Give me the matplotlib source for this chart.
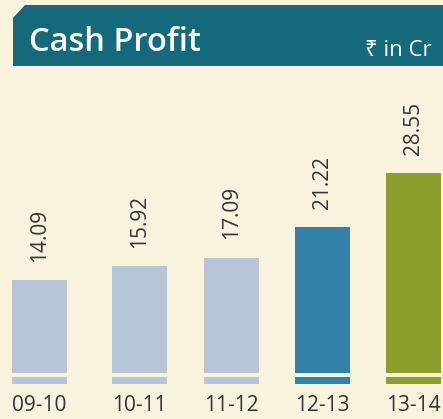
import numpy as np
import matplotlib.pyplot as plt
from matplotlib.patches import Polygon

# data
years = ['09-10', '10-11', '11-12', '12-13', '13-14']
cash_profit = [14.09, 15.92, 17.09, 21.22, 28.55]
bar_colors = ['#B5C6D8', '#B5C6D8', '#B5C6D8', '#3181A9', '#8B9F2A']

# layout
W, H = 443, 419
bg = '#F8F3DC'
txt = '#333333'
xpos = np.array([0, 1.09, 2.094, 3.086, 4.08])
px_per_x = 91.7
px_per_val = 7.4
stub = 7 / px_per_val
gap = 4 / px_per_val

plt.rcParams['font.family'] = ['Open Sans', 'Noto Sans', 'DejaVu Sans']

fig = plt.figure(figsize=(W / 100, H / 100), dpi=100, facecolor=bg)

# bars axes: bottom at y=384px, top at y=80px
ax_bottom = (H - 384) / H
ax_h = (384 - 80) / H
ax = fig.add_axes([0, ax_bottom, 1, ax_h])
ax.set_facecolor('none')
ax.set_xlim(-39.5 / px_per_x, (W - 39.5) / px_per_x)
ax.set_ylim(0, 304 / px_per_val)

width = 55 / px_per_x
# small stub at bottom plus main bar above a thin gap
ax.bar(xpos, [stub] * len(xpos), width=width, color=bar_colors)
ax.bar(xpos, np.array(cash_profit) - stub - gap, bottom=stub + gap,
       width=width, color=bar_colors)

for x, v in zip(xpos, cash_profit):
    ax.annotate(f'{v:.2f}', (x, v), xytext=(0, 13), textcoords='offset points',
                rotation=90, ha='center', va='bottom', fontsize=15, color=txt)

ax.set_xticks(xpos, years)
ax.tick_params(axis='x', length=0, pad=8, labelsize=15, labelcolor=txt)
ax.set_yticks([])
for s in ax.spines.values():
    s.set_visible(False)

# header band
hd = fig.add_axes([0, 0, 1, 1], zorder=-1)
hd.set_xlim(0, W)
hd.set_ylim(H, 0)
hd.axis('off')
hd.add_patch(Polygon([(13, 18), (25, 5), (W, 5), (W, 66), (13, 66)],
                     closed=True, color='#146A7B', lw=0))
hd.text(29, 51, 'Cash Profit', color='white', fontsize=23.5, fontweight='semibold',
        ha='left', va='baseline')
hd.text(432, 56, '₹ in Cr', color='white', fontsize=16, ha='right', va='baseline')

fig.savefig('out.png', dpi=100, facecolor=bg)
